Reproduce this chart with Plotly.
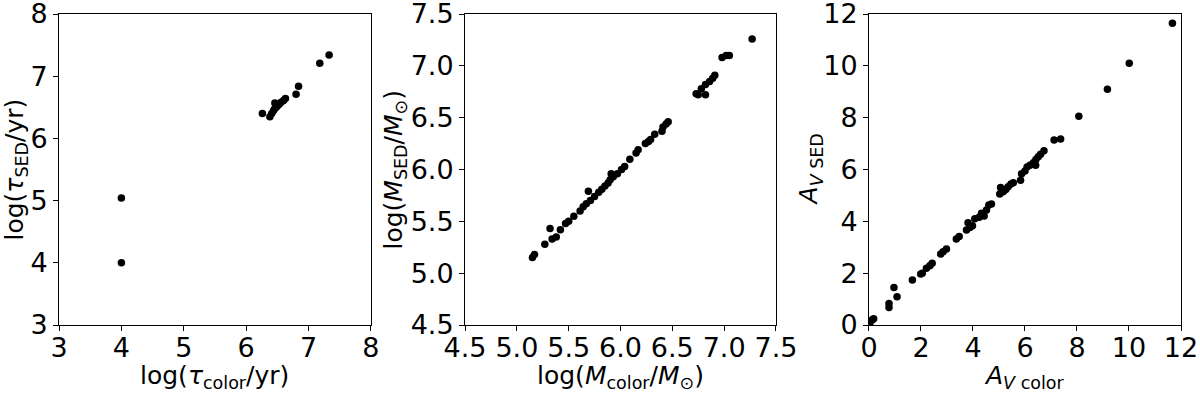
import plotly.graph_objects as go
from plotly.subplots import make_subplots

# panel 1: age
tau_color = [4.0, 4.0, 6.26, 6.38, 6.41, 6.44, 6.46, 6.48, 6.50, 6.53, 6.56, 6.60, 6.63,
             6.46, 6.50, 6.80, 6.84, 7.18, 7.33]
tau_sed = [5.04, 4.0, 6.40, 6.35, 6.40, 6.45, 6.48, 6.50, 6.52, 6.55, 6.58, 6.61, 6.64,
           6.57, 6.54, 6.71, 6.84, 7.21, 7.34]

# panel 2: mass
m_color = [5.15, 5.17, 5.27, 5.32, 5.34, 5.38, 5.42, 5.47, 5.50, 5.55, 5.61, 5.64, 5.67,
           5.69, 5.71, 5.75, 5.79, 5.82, 5.85, 5.88, 5.90, 5.91, 5.93, 5.97, 6.01, 6.04,
           6.09, 6.15, 6.17, 6.24, 6.27, 6.29, 6.33, 6.40, 6.41, 6.44, 6.46, 6.73, 6.75,
           6.78, 6.82, 6.82, 6.86, 6.89, 6.91, 6.98, 7.02, 7.05, 7.27]
m_sed = [5.15, 5.18, 5.28, 5.43, 5.33, 5.35, 5.42, 5.48, 5.50, 5.55, 5.60, 5.64, 5.67,
         5.79, 5.70, 5.74, 5.78, 5.81, 5.84, 5.87, 5.90, 5.96, 5.93, 5.96, 6.00, 6.03,
         6.10, 6.16, 6.19, 6.25, 6.27, 6.29, 6.34, 6.37, 6.41, 6.44, 6.46, 6.73, 6.72,
         6.78, 6.82, 6.72, 6.85, 6.88, 6.91, 7.08, 7.10, 7.10, 7.26]

# panel 3: extinction
av_color = [0.03, 0.12, 0.18, 0.77, 0.77, 0.96, 1.08, 1.67, 1.99, 2.05, 2.21, 2.34, 2.43,
            2.76, 2.85, 2.98, 3.36, 3.47, 3.75, 3.81, 3.88, 3.98, 4.07, 4.24, 4.33, 4.43,
            4.52, 4.61, 4.71, 5.03, 5.06, 5.16, 5.26, 5.35, 5.46, 5.55, 5.83, 5.87, 6.00,
            6.08, 6.19, 6.32, 6.41, 6.42, 6.51, 6.60, 6.73, 7.12, 7.37, 8.07, 9.17, 10.01,
            11.67]
av_sed = [0.06, 0.19, 0.24, 0.83, 0.68, 1.45, 1.09, 1.74, 1.97, 2.00, 2.19, 2.29, 2.38,
          2.74, 2.83, 2.93, 3.32, 3.41, 3.67, 3.95, 3.76, 3.83, 4.10, 4.16, 4.31, 4.21,
          4.44, 4.63, 4.67, 5.05, 5.31, 5.14, 5.23, 5.33, 5.44, 5.49, 5.59, 5.84, 5.94,
          6.10, 6.16, 6.26, 6.16, 6.39, 6.49, 6.59, 6.72, 7.14, 7.18, 8.05, 9.10, 10.10,
          11.64]

xtitles = ["log(<i>τ</i><sub>color</sub>/yr)",
           "log(<i>M</i><sub>color</sub>/<i>M</i><sub>⊙</sub>)",
           "<i>A</i><sub><i>V</i> color</sub>"]
ytitles = ["log(<i>τ</i><sub>SED</sub>/yr)",
           "log(<i>M</i><sub>SED</sub>/<i>M</i><sub>⊙</sub>)",
           "<i>A</i><sub><i>V</i> SED</sub>"]

fig = make_subplots(rows=1, cols=3)
dot = dict(color="black", size=7.5)
fig.add_trace(go.Scatter(x=tau_color, y=tau_sed, mode="markers", marker=dot), 1, 1)
fig.add_trace(go.Scatter(x=m_color, y=m_sed, mode="markers", marker=dot), 1, 2)
fig.add_trace(go.Scatter(x=av_color, y=av_sed, mode="markers", marker=dot), 1, 3)

ax = dict(showline=True, linecolor="black", linewidth=1, mirror=True, ticks="outside",
          ticklen=5, tickcolor="black", showgrid=False, zeroline=False, automargin=False,
          ticklabeloverflow="allow", tickfont=dict(size=27))
fig.update_xaxes(**ax, ticklabelstandoff=-6)
fig.update_yaxes(**ax)

fig.update_xaxes(domain=[0, 0.278], range=[3, 8], dtick=1, row=1, col=1)
fig.update_yaxes(range=[3, 8], dtick=1, row=1, col=1)
fig.update_xaxes(domain=[0.3619, 0.639], range=[4.5, 7.5], dtick=0.5, tickformat=".1f",
                 row=1, col=2)
fig.update_yaxes(range=[4.5, 7.5], dtick=0.5, tickformat=".1f", row=1, col=2)
fig.update_xaxes(domain=[0.7219, 1.0], range=[0, 12], dtick=2, row=1, col=3)
fig.update_yaxes(range=[0, 12], dtick=2, row=1, col=3)

# axis titles placed as annotations for exact positioning
yshifts = [-44, -71, -59]
for i in range(3):
    sfx = "" if i == 0 else str(i + 1)
    fig.add_annotation(text=xtitles[i], xref="x%s domain" % sfx, yref="y%s domain" % sfx,
                       x=0.5, y=0, xanchor="center", yanchor="top", yshift=-34,
                       showarrow=False)
    fig.add_annotation(text=ytitles[i], xref="x%s domain" % sfx, yref="y%s domain" % sfx,
                       x=0, y=0.5, xanchor="center", yanchor="middle", xshift=yshifts[i],
                       textangle=-90, showarrow=False)

fig.update_layout(
    width=1200, height=395, showlegend=False,
    plot_bgcolor="white", paper_bgcolor="white",
    font=dict(family="DejaVu Sans", size=25, color="black"),
    margin=dict(l=59, r=19, t=14, b=70, autoexpand=False),
)
fig.write_html("out.html", config={"displayModeBar": False},
               post_script="document.body.style.margin='0';")
